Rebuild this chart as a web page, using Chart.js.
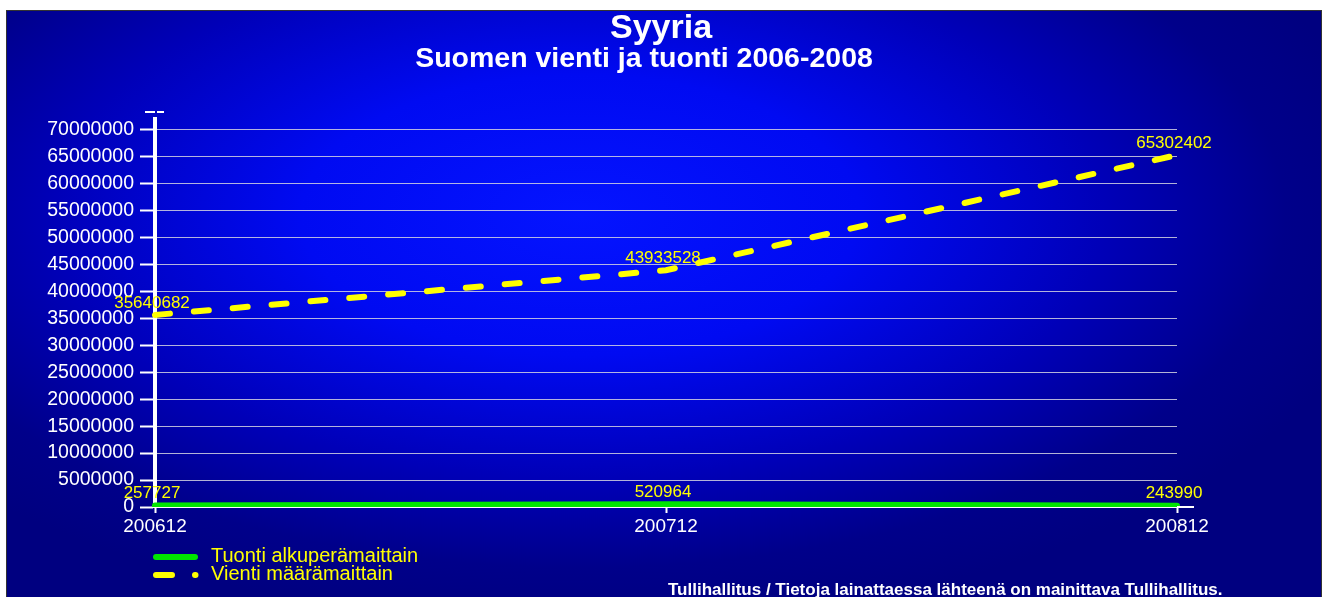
<!DOCTYPE html>
<html>
<head>
<meta charset="utf-8">
<title>Syyria - Suomen vienti ja tuonti 2006-2008</title>
<script src="https://cdn.jsdelivr.net/npm/chart.js@4"></script>
<style>
  html, body { margin: 0; padding: 0; background: #fff; }
  canvas { display: block; }
</style>
</head>
<body>
<canvas id="tradeChart" width="1328" height="597"></canvas>
<script>
// ─── Data ───────────────────────────────────────────────
const periods = ["200612", "200712", "200812"];
const tuontiValues = [257727, 520964, 243990];
const vientiValues = [35640682, 43933528, 65302402];
const seriesNames = ["Tuonti alkuperämaittain", "Vienti määrämaittain"];
const yTickStep = 5000000;
const yTickMax = 70000000;
const titleText = "Syyria";
const subtitleText = "Suomen vienti ja tuonti 2006-2008";
const footerText = "Tullihallitus / Tietoja lainattaessa lähteenä on mainittava Tullihallitus.";

const FONT = "'Liberation Sans', Arial, sans-serif";
const GREEN = "#00e600";
const YELLOW = "#ffff00";

Chart.defaults.font.family = FONT;

// background, titles, legend, footer and value labels
const decorPlugin = {
  id: "decor",
  beforeDraw(chart) {
    const ctx = chart.ctx;
    ctx.save();
    ctx.fillStyle = "#ffffff";
    ctx.fillRect(0, 0, chart.width, chart.height);
    // elliptical radial glow
    ctx.save();
    ctx.beginPath();
    ctx.rect(6, 10, 1316, 590);
    ctx.clip();
    ctx.translate(580, 215);
    ctx.scale(1, 0.5);
    const g = ctx.createRadialGradient(0, 0, 0, 0, 0, 820);
    g.addColorStop(0, "#0414ff");
    g.addColorStop(0.34, "#000af2");
    g.addColorStop(0.64, "#0000b8");
    g.addColorStop(0.86, "#00008a");
    g.addColorStop(1, "#000080");
    ctx.fillStyle = g;
    ctx.fillRect(-1000, -1000, 2400, 2400);
    ctx.restore();
    ctx.strokeStyle = "#333";
    ctx.lineWidth = 1;
    ctx.strokeRect(6.5, 10.5, 1315, 600);
    ctx.restore();
  },
  afterDraw(chart) {
    const ctx = chart.ctx;
    const area = chart.chartArea;
    const y = chart.scales.y;
    ctx.save();
    // titles
    ctx.fillStyle = "#ffffff";
    ctx.textAlign = "center";
    ctx.textBaseline = "alphabetic";
    ctx.font = "bold 34px " + FONT;
    ctx.fillText(titleText, 661, 38);
    ctx.font = "bold 28.5px " + FONT;
    ctx.fillText(subtitleText, 644, 67);

    // axis extension and top marker
    ctx.strokeStyle = "#ffffff";
    ctx.lineWidth = 2;
    ctx.beginPath();
    ctx.moveTo(area.right, y.getPixelForValue(0));
    ctx.lineTo(1194, y.getPixelForValue(0));
    ctx.stroke();
    ctx.setLineDash([10, 2]);
    ctx.beginPath();
    ctx.moveTo(145, 112);
    ctx.lineTo(164, 112);
    ctx.stroke();
    ctx.setLineDash([]);

    // legend
    ctx.lineCap = "round";
    ctx.lineWidth = 6;
    ctx.strokeStyle = GREEN;
    ctx.beginPath();
    ctx.moveTo(156, 557);
    ctx.lineTo(195, 557);
    ctx.stroke();
    ctx.strokeStyle = YELLOW;
    ctx.beginPath();
    ctx.moveTo(156, 575);
    ctx.lineTo(172, 575);
    ctx.moveTo(195, 575);
    ctx.lineTo(195.5, 575);
    ctx.stroke();
    ctx.fillStyle = YELLOW;
    ctx.textAlign = "left";
    ctx.textBaseline = "middle";
    ctx.font = "20px " + FONT;
    ctx.fillText(seriesNames[0], 211, 556);
    ctx.fillText(seriesNames[1], 211, 574);

    // footer
    ctx.fillStyle = "#ffffff";
    ctx.font = "bold 17px " + FONT;
    ctx.textBaseline = "alphabetic";
    ctx.fillText(footerText, 668, 595);
    ctx.restore();
  },
  afterDatasetsDraw(chart) {
    const ctx = chart.ctx;
    ctx.save();
    ctx.fillStyle = YELLOW;
    ctx.font = "17px " + FONT;
    ctx.textAlign = "center";
    ctx.textBaseline = "middle";
    chart.data.datasets.forEach((ds, i) => {
      chart.getDatasetMeta(i).data.forEach((pt, j) => {
        ctx.fillText(String(ds.data[j]), pt.x - 3, pt.y - 12);
      });
    });
    ctx.restore();
  }
};

new Chart(document.getElementById("tradeChart"), {
  type: "line",
  data: {
    labels: periods,
    datasets: [
      { label: seriesNames[0], data: tuontiValues, borderColor: GREEN, borderWidth: 6, borderCapStyle: "round", pointRadius: 0, tension: 0 },
      { label: seriesNames[1], data: vientiValues, borderColor: YELLOW, borderWidth: 6, borderCapStyle: "round", borderDash: [15, 24], pointRadius: 0, tension: 0 },
    ],
  },
  options: {
    responsive: false,
    animation: false,
    layout: { padding: { left: 0, top: 119, right: 151, bottom: 60 } },
    plugins: { legend: { display: false }, title: { display: false }, tooltip: { enabled: false } },
    scales: {
      x: {
        offset: false,
        afterFit: (s) => { s.height = 30; },
        border: { display: true, color: "#ffffff", width: 2 },
        grid: { drawOnChartArea: false, drawTicks: true, tickLength: 6, tickColor: "#ffffff", tickWidth: 2 },
        ticks: { color: "#ffffff", font: { size: 19 }, padding: 2, maxRotation: 0 },
      },
      y: {
        min: 0,
        max: 72000000,
        afterFit: (s) => { s.width = 155; },
        // fixed 5 000 000 steps (Chart.js would otherwise split 0..72M evenly)
        afterBuildTicks: (s) => {
          const t = [];
          for (let v = 0; v <= yTickMax; v += yTickStep) t.push({ value: v });
          s.ticks = t;
        },
        border: { display: true, color: "#ffffff", width: 4 },
        grid: { color: "rgba(210,210,225,0.85)", lineWidth: 1, tickLength: 15, tickColor: "#ffffff", tickWidth: 2 },
        ticks: { autoSkip: false, color: "#ffffff", font: { size: 19.5 }, padding: 6, callback: (v) => String(v) },
      },
    },
  },
  plugins: [decorPlugin],
});
</script>
</body>
</html>
